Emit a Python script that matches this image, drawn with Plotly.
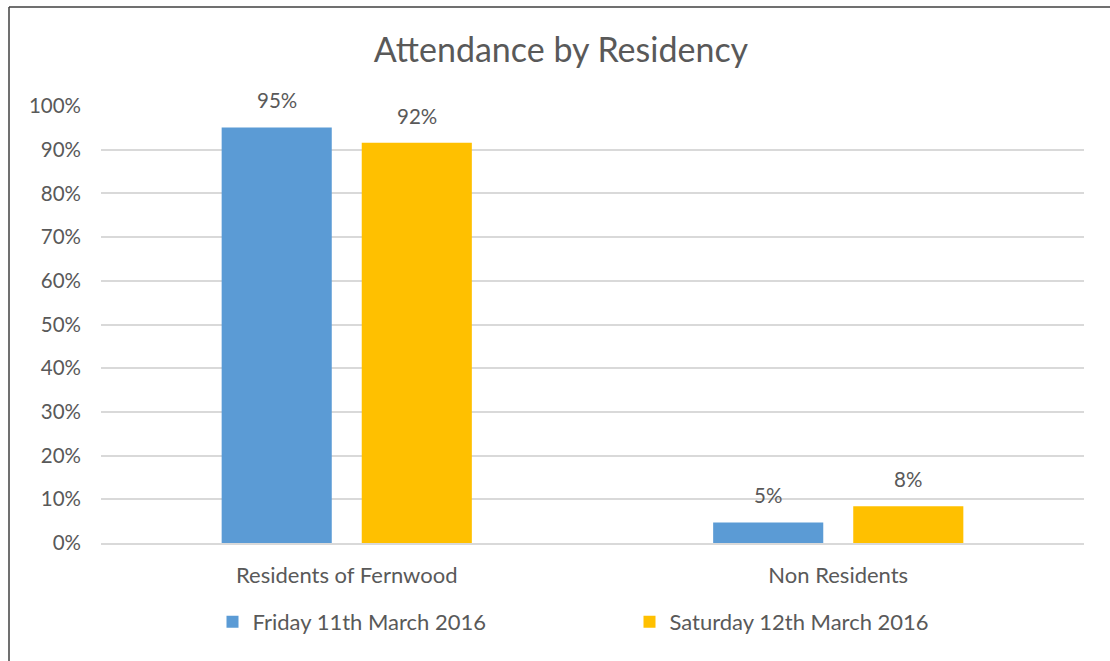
import plotly.graph_objects as go

categories = ["Residents of Fernwood", "Non Residents"]
series_names = ["Friday 11th March 2016", "Saturday 12th March 2016"]
friday = [0.951, 0.047]
saturday = [0.916, 0.084]
colors = ["#5B9BD5", "#FFC000"]
y_ticks = [i / 10 for i in range(11)]

FONT = "Lato"
TXT = "#595959"

L, R, T, B = 101, 26, 106, 118
PW = 1110 - L - R
PH = 661 - T - B

fig = go.Figure()
for name, vals, col in zip(series_names, [friday, saturday], colors):
    fig.add_trace(go.Bar(
        x=categories, y=vals, name=name, marker_color=col,
        marker_line_width=0, hoverinfo="skip",
    ))

# data labels
annotations = []
for vals, shift in zip([friday, saturday], [-70, 70]):
    for cat, v in zip(categories, vals):
        annotations.append(dict(
            x=cat, y=v, xref="x", yref="y", text=f"{v:.0%}", showarrow=False,
            xshift=shift, yshift=13, yanchor="bottom", xanchor="center",
            font=dict(family=FONT, size=20.5, color=TXT),
        ))

bx = (9 - L) / PW
by = 1 + (T - 7) / PH

fig.update_layout(
    width=1110, height=661,
    margin=dict(l=L, r=R, t=T, b=B),
    paper_bgcolor="white", plot_bgcolor="white",
    title=dict(text="Attendance by Residency", x=(561 - L) / PW, xref="paper", xanchor="center",
               y=1 - 50 / 661, yanchor="middle",
               font=dict(family=FONT, size=34, color=TXT)),
    barmode="group", bargap=0.43, bargroupgap=0.214,
    showlegend=True,
    legend=dict(orientation="h", x=(212.5 - L) / PW, xanchor="left", y=-(622 - 543) / PH,
                yanchor="middle",
                font=dict(family=FONT, size=22, color=TXT), entrywidth=372,
                traceorder="normal"),
    font=dict(family=FONT, color=TXT),
    xaxis=dict(showgrid=False, showline=True, linecolor="#d9d9d9", linewidth=1.5,
               ticks="", tickfont=dict(family=FONT, size=22, color=TXT),
               ticklabelstandoff=12),
    yaxis=dict(range=[0, 1], tickvals=y_ticks, tickformat=".0%",
               showgrid=True, gridcolor="#d9d9d9", gridwidth=1.5,
               zeroline=False, showline=False, ticks="",
               tickfont=dict(family=FONT, size=20.5, color=TXT),
               ticklabelstandoff=19),
    annotations=annotations,
    shapes=[
        dict(type="line", xref="paper", yref="paper",
             x0=bx, x1=1.05, y0=by, y1=by,
             line=dict(color="#404040", width=1.5)),
        dict(type="line", xref="paper", yref="paper",
             x0=bx, x1=bx, y0=by, y1=-0.35,
             line=dict(color="#404040", width=1.5)),
    ],
)

fig.write_html("out.html", config={"displayModeBar": False},
               post_script="document.body.style.margin='0px';")
